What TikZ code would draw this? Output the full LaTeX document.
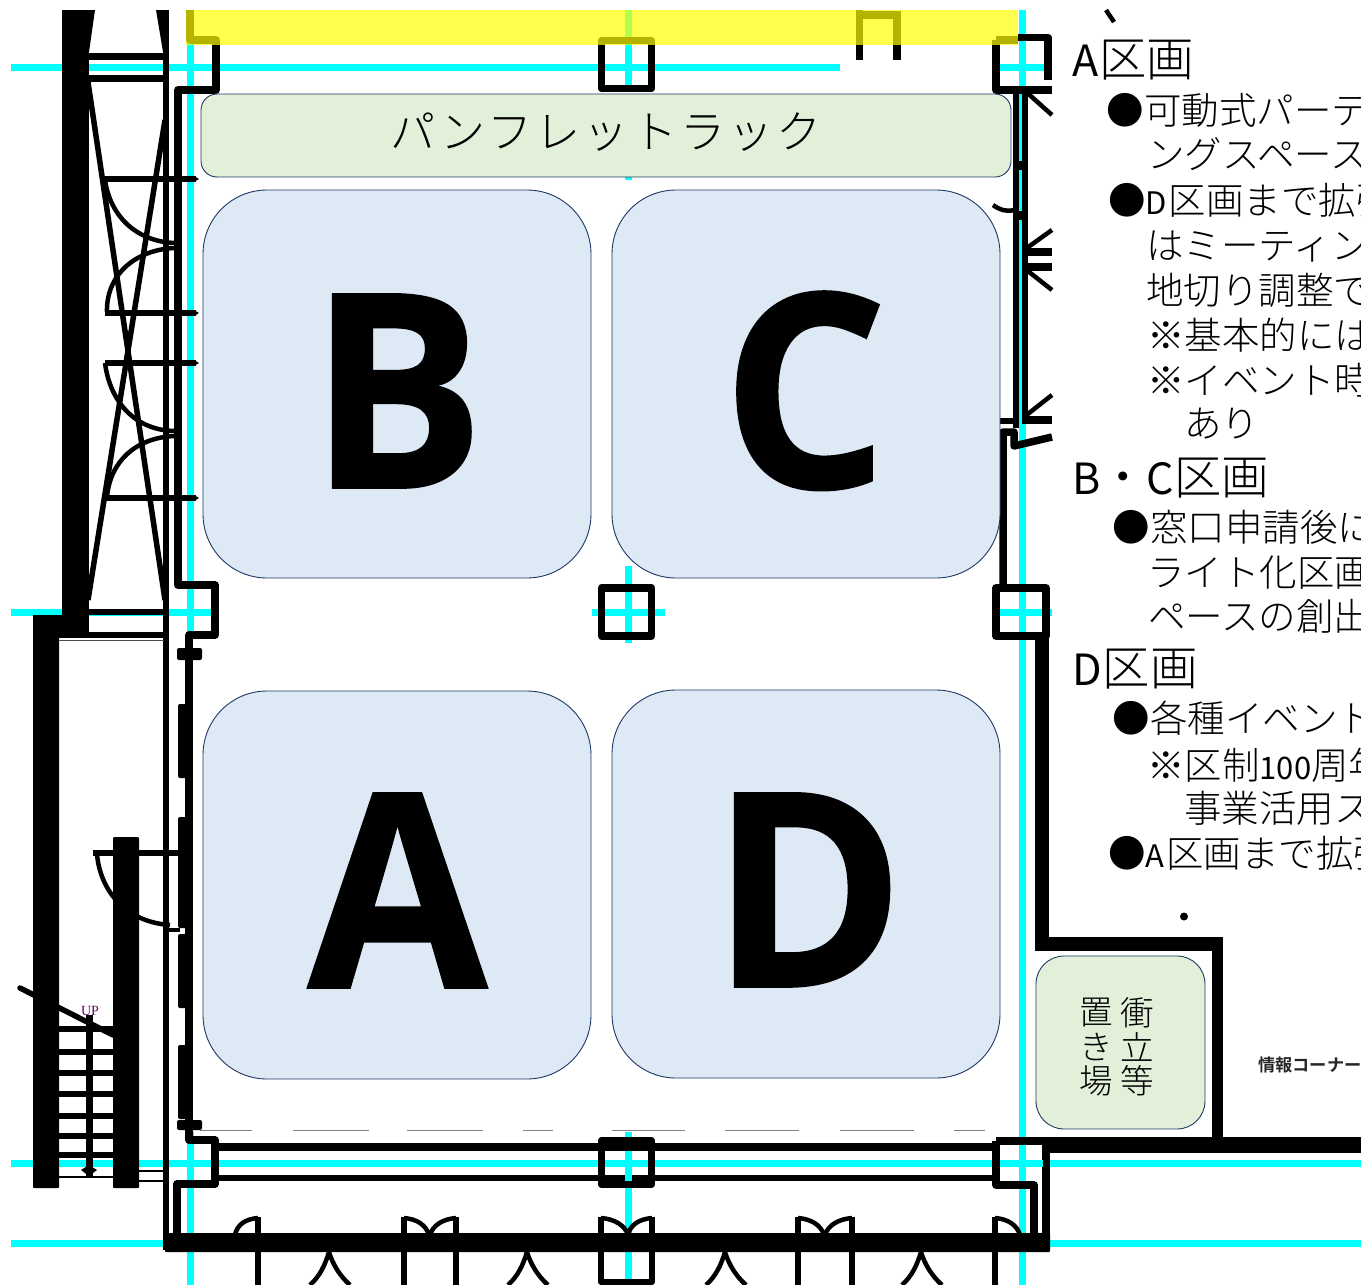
\documentclass[tikz,border=0pt]{standalone}
\usepackage{fontspec}
\setmainfont{Noto Sans CJK JP}[UprightFont=* Light,BoldFont=* Bold]
\newfontfamily\cjkreg{Noto Sans CJK JP}
\newfontfamily\cjkbold{Noto Sans CJK JP Bold}
\newfontfamily\bigfont{Open Sans}[UprightFont=* Bold,FakeBold=0.6,FakeStretch=0.96]
\newfontfamily\upfont{Liberation Serif}
\newcommand{\smallL}[1]{{\fontsize{31}{31}\selectfont\cjkreg #1}}
\newcommand{\headL}[1]{{\fontsize{43}{43}\selectfont\cjkreg #1}}
\newcommand{\kome}{{\cjkreg ※}}
\definecolor{cyanline}{HTML}{00FFFF}
\definecolor{yellowband}{HTML}{FFFF00}
\definecolor{blueroom}{HTML}{DDE9F5}
\definecolor{greenroom}{HTML}{E2EFD9}
\definecolor{navyline}{HTML}{1F3864}
\tikzset{
  x=1pt,y=-1pt,
  cyanl/.style={draw=cyanline,line width=7pt},
  wall/.style={draw=black,line width=7.5pt,line join=round},
  wallthin/.style={draw=black,line width=5.5pt,line join=round},
  arcl/.style={draw=black,line width=4.5pt},
  room/.style={draw=navyline,line width=0.9pt,fill=blueroom,rounded corners=64pt},
  greenbox/.style={draw=navyline,line width=0.9pt,fill=greenroom},
  bigletter/.style={anchor=base,inner sep=0,font=\bigfont\fontsize{272}{272}\selectfont},
  bodyt/.style={anchor=base west,inner sep=0,font=\fontsize{37.5}{40}\selectfont},
  headt/.style={anchor=base west,inner sep=0,font=\fontsize{47.5}{48}\selectfont},
  vchar/.style={anchor=center,inner sep=0,font=\fontsize{33.5}{34}\selectfont},
}
\begin{document}
\begin{tikzpicture}
\useasboundingbox (0,0) rectangle (1361,1285);
\clip (0,0) rectangle (1361,1285);
% --- cyan grid
\draw[cyanl] (11,67) -- (840,67);
\draw[cyanl] (995,67) -- (1052,67);
\draw[cyanl] (11,612) -- (215,612);
\draw[cyanl] (592,612) -- (665,612);
\draw[cyanl] (995,612) -- (1052,612);
\draw[cyanl] (11,1163) -- (1361,1163);
\draw[cyanl] (11,1243) -- (1361,1243);
\draw[cyanl] (190,10) -- (190,635);
\draw[cyanl] (190,1132) -- (190,1285);
\draw[cyanl] (628,10) -- (628,86);
\draw[cyanl] (628,170) -- (628,180);
\draw[cyanl] (628,566) -- (628,643);
\draw[cyanl] (628,1132) -- (628,1285);
\draw[cyanl] (1022,10) -- (1022,1285);
% --- left thick wall, upper
\fill (62,10) rectangle (89,635);
\fill (89,10) -- (95,10) -- (89,52) -- cycle;
\fill (163,10) -- (156,10) -- (163,52) -- cycle;
\fill (33,615) rectangle (89,636);
\fill[rounded corners=1pt] (33,615) rectangle (59,1188);
\draw[draw=black,line width=6pt] (166,10) -- (166,1250);
\draw[draw=black,line width=7pt] (89,56) -- (164,56) (89,78) -- (164,78);
\draw[draw=black,line width=6pt] (89,612) -- (164,612);
\draw[draw=black,line width=6pt] (59,635) -- (164,635);
\draw[draw=black,line width=5.5pt] (88,82) -- (165,600);
\draw[draw=black,line width=5.5pt] (165,120) -- (88,600);
% door leaves on left
\draw[draw=black,line width=6pt] (105,179) -- (196,179) (105,313) -- (196,313) (105,363) -- (196,363) (106,498) -- (196,498);
\fill (194,176) -- (199,179) -- (194,182) -- cycle (194,310) -- (199,313) -- (194,316) -- cycle (194,360) -- (199,363) -- (194,366) -- cycle (194,495) -- (199,498) -- (194,501) -- cycle;
\draw[arcl] (105,180) .. controls (110,215) and (135,241) .. (174,243);
\draw[arcl] (174,248) .. controls (135,250) and (106,275) .. (107,312);
\draw[arcl] (105,363) .. controls (110,402) and (135,430) .. (174,431);
\draw[arcl] (174,436) .. controls (135,438) and (110,462) .. (107,497);
% upper-left inner wall + pillars
\draw[wall] (190,10) -- (190,40) -- (216,40) -- (216,90) -- (178,90) -- (178,585) -- (215,585) -- (215,635) -- (189,635) -- (189,1128);
% bumps on inner left wall
\fill[rounded corners=2pt] (177,648) rectangle (202,660);
\fill[rounded corners=2pt] (178,704) rectangle (188,778);
\fill[rounded corners=2pt] (178,817) rectangle (188,928);
\fill[rounded corners=2pt] (178,934) rectangle (188,1008);
\fill[rounded corners=2pt] (178,1045) rectangle (188,1119);
\fill[rounded corners=2pt] (177,1120) rectangle (202,1130);
% mid pillar, top pillar
\draw[wall] (601.5,40.5) rectangle (651.5,88.5);
\draw[wall] (601.5,588) rectangle (651.5,636);
\draw[wall] (996,40) -- (996,90) -- (1052,90);
\draw[wall] (996,40) -- (1018,40);
\draw[wall] (1018,37.5) -- (1048,37.5) -- (1048,80);
\draw[wall] (996,588) rectangle (1046,636);
% top door frame
\draw[wall] (859.5,10) -- (859.5,60);
\draw[wall] (897,15) -- (897,60);
\draw[wall] (856,15) -- (901,15);
% right side wall
\draw[draw=black,line width=6.5pt] (1016,88) -- (1016,428);
\draw[wallthin] (1025,88) -- (1025,423);
\draw[draw=black,line width=9pt] (1015,165) -- (1025,165) (1015,215) -- (1025,215);
\draw[draw=black,line width=6.5pt] (1000,421) -- (1017,421);
\draw[draw=black,line width=8pt] (1022,252) -- (1052,252) (1022,267) -- (1052,267) (1022,420) -- (1052,420);
\draw[arcl] (1024,90) -- (1052,115);
\draw[arcl] (1024,250) -- (1052,230);
\draw[arcl] (1024,268) -- (1052,290);
\draw[arcl] (1024,417) -- (1052,395);
\draw[arcl] (993,205) .. controls (1000,210) and (1006,212) .. (1014,210);
\draw[wall] (1003,586) -- (1003,432) -- (1014,432) -- (1014,446) -- (1052,437);
% right lower thick wall
\draw[draw=black,line width=14pt,line join=miter] (1042,636) -- (1042,943.5) -- (1223,943.5);
\draw[draw=black,line width=11pt] (1217.5,943) -- (1217.5,1145);
\draw[draw=black,line width=16pt] (1042,1145) -- (1361,1145);
\draw[wall] (996,1141) -- (996,1185) -- (1034,1185) -- (1034,1240);
\draw[wall] (996,1141) -- (1046,1141) -- (1046,1248);
% lower-left pillar & corridors
\draw[wall] (189,1128) -- (189,1140) -- (215,1140) -- (215,1184) -- (177,1184) -- (177,1240);
\draw[draw=black,line width=8pt] (215,1147) -- (1000,1147);
\draw[draw=black,line width=6pt] (215,1178) -- (1000,1178);
\fill[white] (604.5,1151.5) rectangle (648.5,1174.5);
\fill[white] (999.5,1151.5) rectangle (1041,1181);
\draw[cyanl] (604,1163) -- (649,1163);
\draw[cyanl] (999.5,1163) -- (1043,1163);
\draw[cyanl] (628,1152) -- (628,1185);
\draw[cyanl] (1022,1152) -- (1022,1181);
\draw[wall] (601.5,1140.5) rectangle (651.5,1184.5);
% bottom thick wall
\fill[rounded corners=1pt] (165,1233) rectangle (1050,1252);
% doors
\draw[wallthin] (258,1217) -- (258,1285);
\draw[wallthin] (404,1217) -- (404,1285);
\draw[wallthin] (456,1217) -- (456,1285);
\draw[wallthin] (601,1217) -- (601,1282) -- (652,1282) -- (652,1217);
\draw[wallthin] (798,1217) -- (798,1285);
\draw[wallthin] (852,1217) -- (852,1285);
\draw[wallthin] (995,1217) -- (995,1285);
\draw[arcl] (258,1218) .. controls (245,1219) and (237,1225) .. (235,1235);
\draw[arcl] (404,1218) .. controls (417,1219) and (426,1225) .. (429,1235);
\draw[arcl] (456,1218) .. controls (443,1219) and (433,1225) .. (430,1235);
\draw[arcl] (601,1218) .. controls (614,1219) and (625,1225) .. (628,1235);
\draw[arcl] (652,1218) .. controls (639,1219) and (630,1225) .. (628,1235);
\draw[arcl] (798,1218) .. controls (811,1219) and (821,1225) .. (824,1235);
\draw[arcl] (852,1218) .. controls (839,1219) and (828,1225) .. (825,1235);
\draw[arcl] (995,1218) .. controls (1008,1219) and (1017,1225) .. (1020,1235);
\draw[arcl] (329,1252) .. controls (325,1265) and (320,1276) .. (310,1285);
\draw[arcl] (329,1252) .. controls (333,1265) and (340,1276) .. (350,1285);
\draw[arcl] (527,1252) .. controls (523,1265) and (518,1276) .. (508,1285);
\draw[arcl] (527,1252) .. controls (531,1265) and (538,1276) .. (548,1285);
\draw[arcl] (725,1252) .. controls (721,1265) and (716,1276) .. (706,1285);
\draw[arcl] (725,1252) .. controls (729,1265) and (736,1276) .. (746,1285);
\draw[arcl] (921,1252) .. controls (917,1265) and (912,1276) .. (902,1285);
\draw[arcl] (921,1252) .. controls (925,1265) and (932,1276) .. (942,1285);
% stair area
\fill[rounded corners=1pt] (113,837) rectangle (139,1188);
\draw[draw=black,line width=5.5pt] (93,853) -- (113,853) (139,853) -- (178,853);
\draw[arcl] (97,854) .. controls (100,890) and (125,922) .. (170,925);
\draw[draw=black,line width=4.5pt] (166,930) -- (180,930);
\draw[draw=black,line width=5.5pt,line cap=round] (20,988) -- (113,1035);
\draw[draw=black,line width=6pt] (59,1029) -- (113,1029) (59,1052) -- (113,1052) (59,1073) -- (113,1073) (59,1094) -- (113,1094) (59,1116) -- (113,1116) (59,1136) -- (113,1136) (59,1155) -- (113,1155);
\draw[draw=black,line width=2.5pt] (59,1177) -- (113,1177);
\draw[draw=black,line width=2.5pt] (139,1171) -- (165,1171) (139,1181) -- (165,1181);
\draw[draw=black,line width=7pt] (89,1015) -- (89,1176);
\fill (81,1170) -- (89,1165) -- (97,1170) -- (89,1176) -- cycle;
% misc
\draw[draw=black!70,line width=1pt] (59,640) -- (164,640);
\foreach \a/\b in {200/252,293/369,407/483,523/553,612/685,725/799,840/914,954/985}
  \draw[draw=black!50,line width=1pt] (\a,1130) -- (\b,1130);
\draw[draw=black,line width=4.5pt] (1106,10) -- (1114,22);
\fill (1184,916.5) circle (4pt);
% yellow band (translucent)
\fill[yellowband,opacity=0.7] (186,10) rectangle (1018,45);
% rooms
\draw[room] (203,190) rectangle (591,578);
\draw[room] (612,190) rectangle (1000,578);
\draw[room] (203,691) rectangle (591,1079);
\draw[room] (612,690) rectangle (1000,1078);
\node[bigletter] (lB) at (397,488) {B};
\node[bigletter] (lC) at (805,488) {C};
\node[bigletter] (lA) at (397.5,988) {A};
\node[bigletter] (lD) at (808,987) {D};
% green boxes
\draw[greenbox,rounded corners=16pt] (201,94) rectangle (1011,177);
\node[anchor=center,inner sep=0,font=\fontsize{45}{45}\selectfont] (rack) at (606,132.5) {\addfontfeature{LetterSpace=7}パンフレットラック};
\draw[greenbox,rounded corners=28pt] (1036,956) rectangle (1205,1129);
\node[vchar] (v1) at (1137,1013) {衝};
\node[vchar] (v2) at (1137,1047) {立};
\node[vchar] (v3) at (1137,1081) {等};
\node[vchar] (v4) at (1096,1013) {置};
\node[vchar] (v5) at (1096,1047) {き};
\node[vchar] (v6) at (1096,1081) {場};
% text panel
\node[headt] (h1) at (1072,76) {\headL{A}\hspace{1pt}区画};
\node[bodyt] (t1) at (1106.5,124) {●可動式パーテ};
\node[bodyt] (t2) at (1147,168) {ングスペース};
\node[bodyt] (t3) at (1108,214) {●\smallL{D}\hspace{1.5pt}区画まで拡張};
\node[bodyt] (t4) at (1146,259) {はミーティング};
\node[bodyt] (t5) at (1146,304) {地切り調整で};
\node[bodyt] (t6) at (1147,349) {\kome 基本的には};
\node[bodyt] (t7) at (1147,394) {\kome イベント時};
\node[bodyt] (t8) at (1184,437) {あり};
\node[headt] (h2) at (1072,494) {\headL{B}\hspace{-1pt}・\headL{C}区画};
\node[bodyt] (t9) at (1112.5,541) {●窓口申請後に};
\node[bodyt] (t10) at (1147,586) {ライト化区画};
\node[bodyt] (t11) at (1148,630) {ペースの創出};
\node[headt] (h3) at (1072,685) {\headL{D}\hspace{1pt}区画};
\node[bodyt] (t12) at (1112.5,732) {●各種イベント};
\node[bodyt] (t13) at (1147,779) {\kome 区制\smallL{100}周年};
\node[bodyt] (t14) at (1184,822) {事業活用ス};
\node[bodyt] (t15) at (1108,867) {●\smallL{A}\hspace{1.5pt}区画まで拡張};
\node[anchor=base west,inner sep=0,font=\cjkbold\fontsize{17.2}{17}\selectfont,text=black!85] (info) at (1258,1071) {情報コーナー};
\node[anchor=base,inner sep=0,font=\upfont\fontsize{14}{14}\selectfont,text=violet!80!black] (up) at (90,1015) {UP};
\end{tikzpicture}
\end{document}
